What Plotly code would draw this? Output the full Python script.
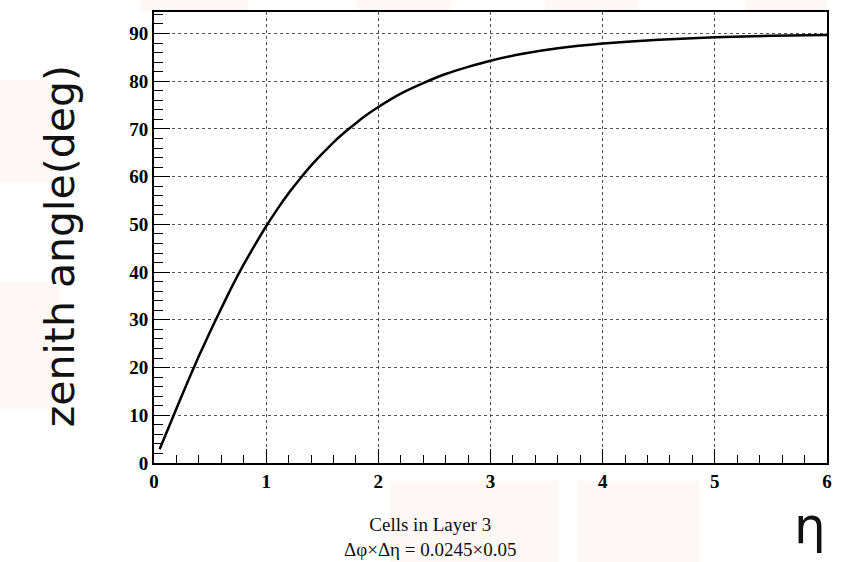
import plotly.graph_objects as go

# Data
eta = [0.05, 0.1, 0.2, 0.3, 0.4, 0.5, 0.6, 0.7, 0.8, 0.9, 1.0, 1.1, 1.2, 1.3, 1.4,
       1.5, 1.6, 1.7, 1.8, 1.9, 2.0, 2.2, 2.4, 2.6, 2.8, 3.0, 3.3, 3.6, 4.0, 4.5,
       5.0, 5.5, 6.0]
zenith = [2.9, 5.7, 11.4, 17.0, 22.4, 27.5, 32.4, 37.2, 41.6, 45.7, 49.6, 53.2, 56.5,
          59.5, 62.3, 64.8, 67.2, 69.3, 71.2, 73.0, 74.6, 77.4, 79.6, 81.5, 83.0,
          84.3, 85.8, 86.9, 87.9, 88.7, 89.2, 89.5, 89.7]
x_ticks = [0, 1, 2, 3, 4, 5, 6]
y_ticks = [0, 10, 20, 30, 40, 50, 60, 70, 80, 90]

fig = go.Figure()
fig.add_trace(go.Scatter(x=eta, y=zenith, mode="lines",
                         line=dict(color="black", width=2.5, shape="spline", smoothing=0.5),
                         showlegend=False, hoverinfo="skip"))

# faint watermark blobs outside the frame
blob = "rgba(238,190,170,0.12)"
for (x0, y0, x1, y1) in [(-0.02, 1.0, 0.14, 1.03), (0.30, 1.0, 0.44, 1.03),
                         (0.58, 1.0, 0.72, 1.03), (0.88, 1.0, 1.0, 1.03),
                         (-0.23, 0.62, -0.15, 0.85), (-0.23, 0.12, -0.14, 0.40),
                         (0.35, -0.04, 0.60, -0.22), (0.63, -0.04, 0.81, -0.22)]:
    fig.add_shape(type="rect", xref="paper", yref="paper", x0=x0, y0=y0, x1=x1, y1=y1,
                  fillcolor=blob, line=dict(width=0), layer="below")

fig.update_layout(
    width=845, height=562,
    margin=dict(l=154, r=18, t=10, b=99),
    paper_bgcolor="white", plot_bgcolor="white",
    xaxis=dict(range=[0, 6], tickvals=x_ticks, ticktext=[f"<b>{v}</b>" for v in x_ticks],
               ticks="inside", ticklen=14, tickwidth=1, tickcolor="black",
               minor=dict(ticks="inside", ticklen=8, dtick=0.2, tickcolor="black", showgrid=False),
               showline=True, mirror=True, linewidth=2, linecolor="black",
               showgrid=True, gridcolor="rgba(40,40,40,0.8)", griddash="dot", gridwidth=1,
               zeroline=False,
               tickfont=dict(family="Liberation Serif", size=19, color="black")),
    yaxis=dict(range=[0, 94.5], tickvals=y_ticks, ticktext=[f"<b>{v}</b>" for v in y_ticks],
               ticks="inside", ticklen=16, tickwidth=1, tickcolor="black",
               minor=dict(ticks="inside", ticklen=9, dtick=2, tickcolor="black", showgrid=False),
               showline=True, mirror=True, linewidth=2, linecolor="black",
               showgrid=True, gridcolor="rgba(40,40,40,0.8)", griddash="dot", gridwidth=1,
               zeroline=False,
               tickfont=dict(family="Liberation Serif", size=19, color="black")),
)

fig.add_annotation(text="zenith angle(deg)", xref="paper", yref="paper",
                   x=-0.14, y=0.48, textangle=-90, showarrow=False,
                   font=dict(family="DejaVu Sans", size=41, color="#111"),
                   xanchor="center", yanchor="middle")
fig.add_annotation(text="η", xref="paper", yref="paper", x=0.975, y=-0.14,
                   showarrow=False, font=dict(family="DejaVu Sans", size=50, color="#111"),
                   xanchor="center", yanchor="middle")
fig.add_annotation(text="Cells in Layer 3<br>Δφ×Δη = 0.0245×0.05", xref="paper", yref="paper",
                   x=0.41, y=-0.165, showarrow=False, align="center",
                   font=dict(family="Liberation Serif", size=19, color="#111"),
                   xanchor="center", yanchor="middle")

fig.write_html("out.html")
